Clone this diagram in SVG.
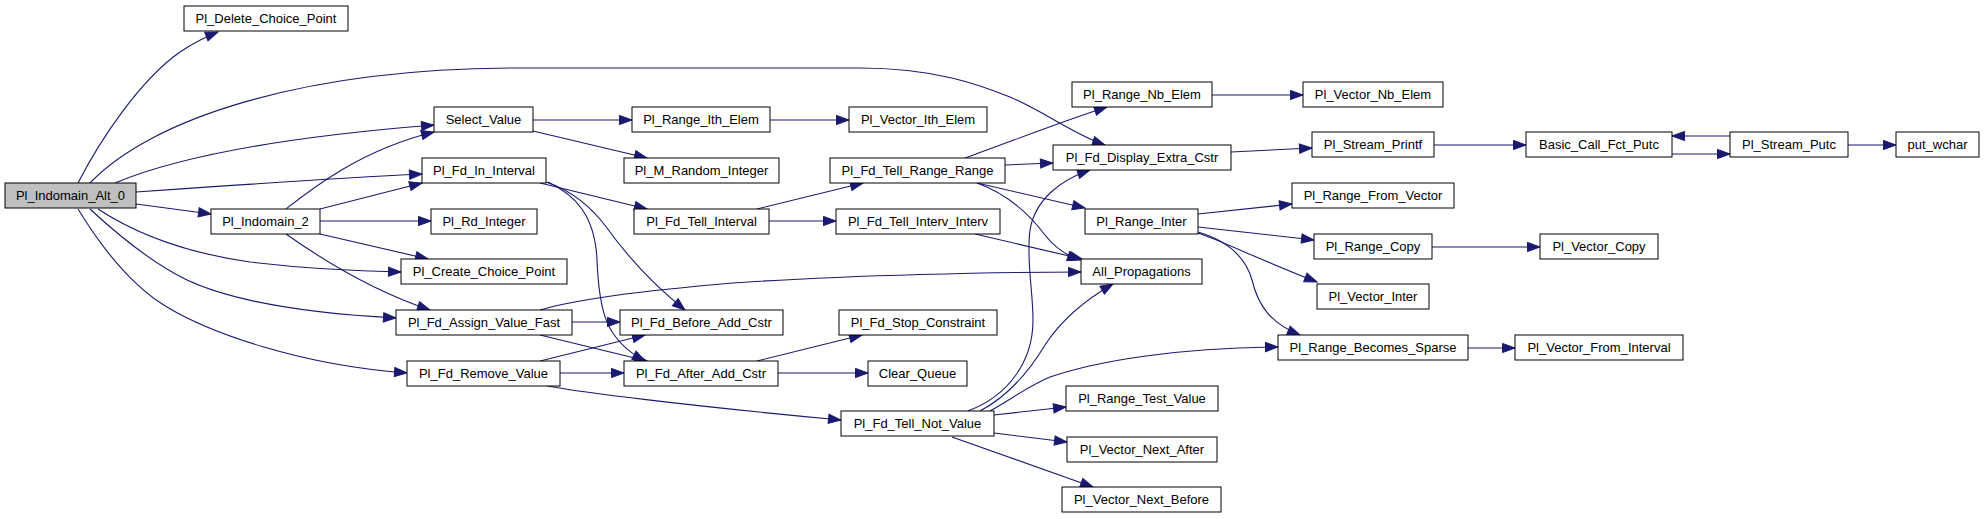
<svg xmlns="http://www.w3.org/2000/svg" width="1984" height="519" viewBox="0 0 1984 519">
<style>
.n rect{fill:#fff;stroke:#000;stroke-width:1}
.n.root rect{fill:#bfbfbf}
.n text{font-family:"Liberation Sans",Arial,sans-serif;font-size:13px;text-anchor:middle;fill:#000}
#edges path{fill:none;stroke:#191970;stroke-width:1.1;marker-end:url(#arr)}
</style>
<defs>
<marker id="arr" markerUnits="userSpaceOnUse" markerWidth="14" markerHeight="11" refX="12.5" refY="4.6" orient="auto" overflow="visible">
<path d="M0,0 L12.5,4.6 L0,9.2 z" fill="#191970" stroke="#191970" stroke-width="1"/>
</marker>
</defs>
<rect width="1984" height="519" fill="#fff"/>
<g id="edges">
<path d="M78,183 C100,140 140,80 180,52 C195,42 205,37 218,32"/>
<path d="M90,183 C150,120 300,68 520,68 L860,68 C935,68 980,85 1010,97 C1045,112 1075,135 1105,145"/>
<path d="M115,183 C170,160 270,138 434,125"/>
<path d="M136,192 C250,184 340,178 422,174"/>
<path d="M136,204 L211,214"/>
<path d="M98,209 C130,230 180,252 250,262 C300,268 350,271 401,272"/>
<path d="M90,209 C118,235 150,262 187,280 C230,300 300,313 396,318"/>
<path d="M78,209 C100,245 130,285 167,307 C210,333 300,365 407,373"/>
<path d="M286,209 C310,190 360,150 434,132"/>
<path d="M320,209 L422,183"/>
<path d="M320,221 L431,221"/>
<path d="M320,234 L428,259"/>
<path d="M286,234 C320,258 370,290 430,310"/>
<path d="M533,120 L632,120"/>
<path d="M533,131 L647,158"/>
<path d="M770,120 L849,120"/>
<path d="M540,183 L647,209"/>
<path d="M546,182 C570,190 590,205 607,228 C630,260 660,290 685,310"/>
<path d="M548,182 C575,195 595,215 597,260 C599,310 605,340 645,361"/>
<path d="M540,310 C580,298 650,290 733,283 C850,275 1000,272 1081,272"/>
<path d="M572,322 L620,322"/>
<path d="M540,335 L647,361"/>
<path d="M540,361 L645,335"/>
<path d="M560,373 L624,373"/>
<path d="M547,386 C580,392 680,405 841,420"/>
<path d="M757,361 L862,335"/>
<path d="M778,373 L868,373"/>
<path d="M757,209 L863,183"/>
<path d="M769,221 L836,221"/>
<path d="M965,158 C1010,142 1060,122 1107,107"/>
<path d="M1005,165 L1053,163"/>
<path d="M977,183 L1085,208"/>
<path d="M977,183 C1010,195 1030,215 1045,235 C1055,248 1065,255 1080,260"/>
<path d="M975,234 L1082,259"/>
<path d="M968,411 C1010,395 1033,360 1033,320 C1033,290 1026,260 1030,230 C1035,200 1060,180 1090,170"/>
<path d="M980,411 C1010,395 1030,370 1045,345 C1060,322 1085,300 1113,284"/>
<path d="M990,411 C1010,400 1030,385 1050,377 C1100,360 1180,348 1278,347"/>
<path d="M994,415 L1066,407"/>
<path d="M994,433 L1067,442"/>
<path d="M952,437 L1093,487"/>
<path d="M1212,95 L1303,95"/>
<path d="M1231,152 L1312,148"/>
<path d="M1198,214 L1292,204"/>
<path d="M1198,227 L1314,240"/>
<path d="M1198,233 C1220,240 1260,260 1317,282"/>
<path d="M1198,232 C1225,240 1245,255 1252,280 C1258,305 1270,323 1300,335"/>
<path d="M1434,145 L1526,145"/>
<path d="M1672,154 L1730,154"/>
<path d="M1730,136 L1672,136"/>
<path d="M1848,145 L1896,145"/>
<path d="M1432,247 L1540,247"/>
<path d="M1468,348 L1515,348"/>
</g>
<g id="n0" class="n root"><rect x="5" y="183" width="131" height="25"/><text x="70.5" y="200">Pl_Indomain_Alt_0</text></g>
<g id="n1" class="n"><rect x="184" y="6" width="164" height="25"/><text x="266" y="23">Pl_Delete_Choice_Point</text></g>
<g id="n2" class="n"><rect x="434" y="107" width="99" height="25"/><text x="483.5" y="124">Select_Value</text></g>
<g id="n3" class="n"><rect x="422" y="158" width="124" height="25"/><text x="484" y="175">Pl_Fd_In_Interval</text></g>
<g id="n4" class="n"><rect x="211" y="209" width="109" height="25"/><text x="265.5" y="226">Pl_Indomain_2</text></g>
<g id="n5" class="n"><rect x="431" y="209" width="106" height="25"/><text x="484" y="226">Pl_Rd_Integer</text></g>
<g id="n6" class="n"><rect x="401" y="259" width="166" height="25"/><text x="484" y="276">Pl_Create_Choice_Point</text></g>
<g id="n7" class="n"><rect x="396" y="310" width="176" height="25"/><text x="484" y="327">Pl_Fd_Assign_Value_Fast</text></g>
<g id="n8" class="n"><rect x="407" y="361" width="153" height="25"/><text x="483.5" y="378">Pl_Fd_Remove_Value</text></g>
<g id="n9" class="n"><rect x="632" y="107" width="138" height="25"/><text x="701" y="124">Pl_Range_Ith_Elem</text></g>
<g id="n10" class="n"><rect x="624" y="158" width="155" height="25"/><text x="701.5" y="175">Pl_M_Random_Integer</text></g>
<g id="n11" class="n"><rect x="634" y="209" width="135" height="25"/><text x="701.5" y="226">Pl_Fd_Tell_Interval</text></g>
<g id="n12" class="n"><rect x="849" y="107" width="138" height="25"/><text x="918" y="124">Pl_Vector_Ith_Elem</text></g>
<g id="n13" class="n"><rect x="830" y="158" width="175" height="25"/><text x="917.5" y="175">Pl_Fd_Tell_Range_Range</text></g>
<g id="n14" class="n"><rect x="836" y="209" width="164" height="25"/><text x="918" y="226">Pl_Fd_Tell_Interv_Interv</text></g>
<g id="n15" class="n"><rect x="620" y="310" width="163" height="25"/><text x="701.5" y="327">Pl_Fd_Before_Add_Cstr</text></g>
<g id="n16" class="n"><rect x="624" y="361" width="154" height="25"/><text x="701" y="378">Pl_Fd_After_Add_Cstr</text></g>
<g id="n17" class="n"><rect x="839" y="310" width="158" height="25"/><text x="918" y="327">Pl_Fd_Stop_Constraint</text></g>
<g id="n18" class="n"><rect x="868" y="361" width="99" height="25"/><text x="917.5" y="378">Clear_Queue</text></g>
<g id="n19" class="n"><rect x="841" y="411" width="153" height="25"/><text x="917.5" y="428">Pl_Fd_Tell_Not_Value</text></g>
<g id="n20" class="n"><rect x="1072" y="82" width="140" height="25"/><text x="1142" y="99">Pl_Range_Nb_Elem</text></g>
<g id="n21" class="n"><rect x="1053" y="145" width="178" height="25"/><text x="1142" y="162">Pl_Fd_Display_Extra_Cstr</text></g>
<g id="n22" class="n"><rect x="1085" y="209" width="113" height="25"/><text x="1141.5" y="226">Pl_Range_Inter</text></g>
<g id="n23" class="n"><rect x="1081" y="259" width="121" height="25"/><text x="1141.5" y="276">All_Propagations</text></g>
<g id="n24" class="n"><rect x="1278" y="335" width="190" height="25"/><text x="1373" y="352">Pl_Range_Becomes_Sparse</text></g>
<g id="n25" class="n"><rect x="1066" y="386" width="152" height="25"/><text x="1142" y="403">Pl_Range_Test_Value</text></g>
<g id="n26" class="n"><rect x="1067" y="437" width="150" height="25"/><text x="1142" y="454">Pl_Vector_Next_After</text></g>
<g id="n27" class="n"><rect x="1062" y="487" width="159" height="25"/><text x="1141.5" y="504">Pl_Vector_Next_Before</text></g>
<g id="n28" class="n"><rect x="1303" y="82" width="140" height="25"/><text x="1373" y="99">Pl_Vector_Nb_Elem</text></g>
<g id="n29" class="n"><rect x="1312" y="132" width="122" height="25"/><text x="1373" y="149">Pl_Stream_Printf</text></g>
<g id="n30" class="n"><rect x="1292" y="183" width="162" height="25"/><text x="1373" y="200">Pl_Range_From_Vector</text></g>
<g id="n31" class="n"><rect x="1314" y="234" width="118" height="25"/><text x="1373" y="251">Pl_Range_Copy</text></g>
<g id="n32" class="n"><rect x="1317" y="284" width="112" height="25"/><text x="1373" y="301">Pl_Vector_Inter</text></g>
<g id="n33" class="n"><rect x="1526" y="132" width="146" height="25"/><text x="1599" y="149">Basic_Call_Fct_Putc</text></g>
<g id="n34" class="n"><rect x="1730" y="132" width="118" height="25"/><text x="1789" y="149">Pl_Stream_Putc</text></g>
<g id="n35" class="n"><rect x="1896" y="132" width="83" height="25"/><text x="1937.5" y="149">put_wchar</text></g>
<g id="n36" class="n"><rect x="1540" y="234" width="118" height="25"/><text x="1599" y="251">Pl_Vector_Copy</text></g>
<g id="n37" class="n"><rect x="1515" y="335" width="168" height="25"/><text x="1599" y="352">Pl_Vector_From_Interval</text></g>
</svg>
